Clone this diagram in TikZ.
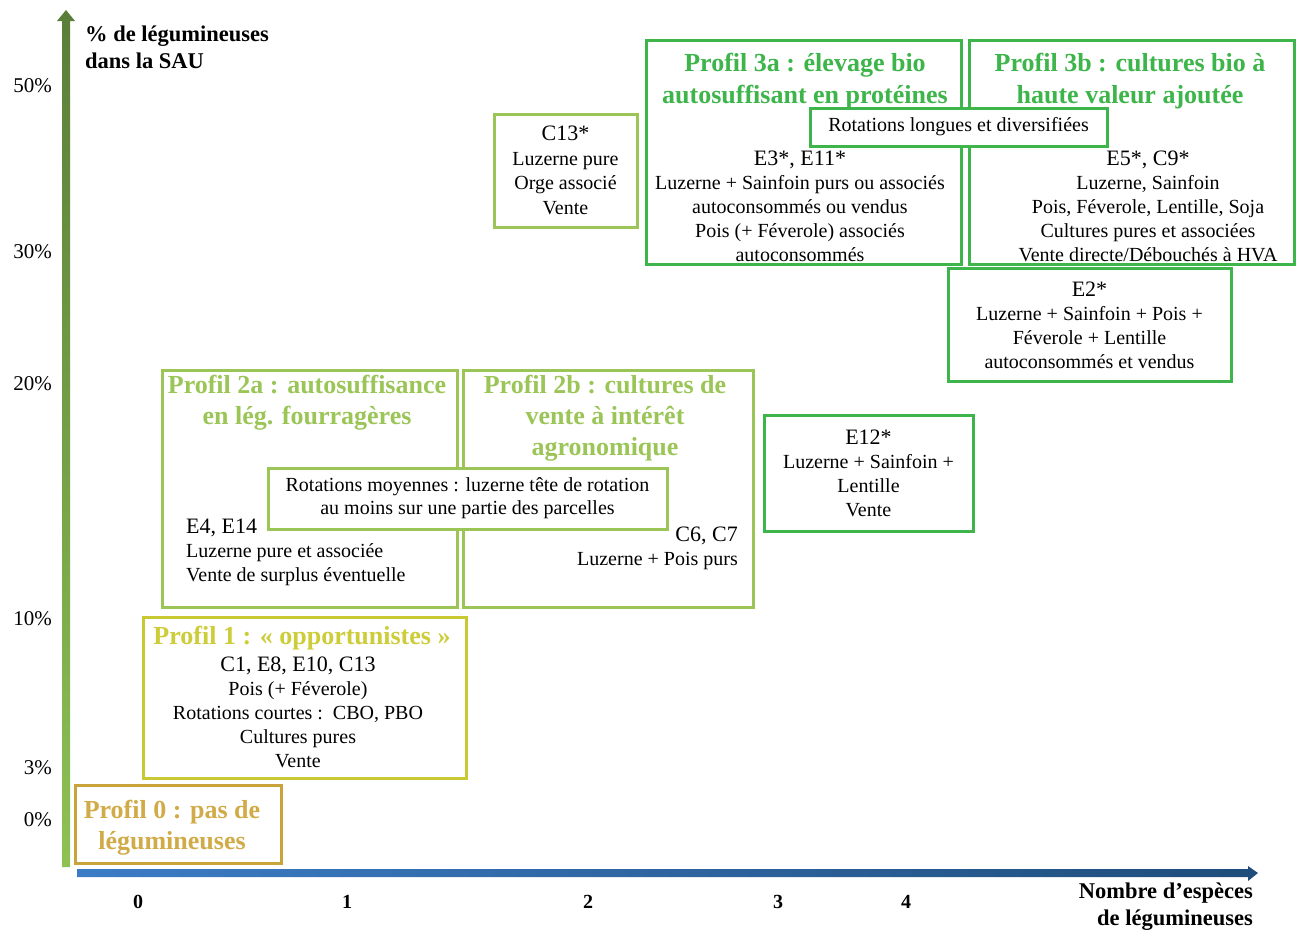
\documentclass[tikz,border=0pt]{standalone}
\usepackage{fontspec}
\setmainfont{Liberation Serif}
\definecolor{goldP}{HTML}{C9A43B}
\definecolor{goldT}{HTML}{D1AB47}
\definecolor{yelP}{HTML}{C9C934}
\definecolor{yelT}{HTML}{CDCD3A}
\definecolor{lgreen}{HTML}{9BC657}
\definecolor{dgreen}{HTML}{3DB54A}
\definecolor{axgtop}{HTML}{5A7D38}
\definecolor{axgbot}{HTML}{8DC253}
\definecolor{axbl}{HTML}{3C7CC6}
\definecolor{axbr}{HTML}{1F4D7A}
\newcommand\codeline[1]{{\fontsize{22}{24}\selectfont #1}}
\begin{document}
\begin{tikzpicture}[x=1pt,y=-1pt,
  frame/.style={draw, line width=3pt, fill=white, inner sep=0pt},
  body/.style={font=\fontsize{20}{24}\selectfont, align=center, inner sep=0pt, text=black},
  ptitle/.style={font=\bfseries\fontsize{26}{31}\selectfont, align=center, inner sep=0pt},
  axtitle/.style={font=\bfseries\fontsize{22.5}{27}\selectfont, inner sep=0pt},
  ytick/.style={font=\fontsize{21}{24}\selectfont, anchor=east, inner sep=0pt},
  xtick/.style={font=\bfseries\fontsize{20}{24}\selectfont, inner sep=0pt}]
\useasboundingbox (0,0) rectangle (1300,930);

% axes
\shade[top color=axgtop, bottom color=axgbot]
  (62,867) -- (70,867) -- (70,21) -- (75,21) -- (66,10) -- (57,21) -- (62,21) -- cycle;
\shade[left color=axbl, right color=axbr]
  (77,869) -- (1248,869) -- (1248,866) -- (1258,873) -- (1248,881) -- (1248,877) -- (77,877) -- cycle;

% axis titles
\node[axtitle, anchor=west, align=left] (ytitle) at (85,47.5) {\% de légumineuses\\dans la SAU};
\node[axtitle, anchor=east, align=right] (xtitle) at (1253,906.5) {Nombre d’espèces\\de légumineuses};

% tick labels
\node[ytick] (y50) at (52,86) {50\%};
\node[ytick] (y30) at (52,252) {30\%};
\node[ytick] (y20) at (52,384) {20\%};
\node[ytick] (y10) at (52,619) {10\%};
\node[ytick] (y3) at (52,768) {3\%};
\node[ytick] (y0) at (52,820) {0\%};
\node[xtick] (x0) at (138,902) {0};
\node[xtick] (x1) at (347,902) {1};
\node[xtick] (x2) at (588,902) {2};
\node[xtick] (x3) at (778,902) {3};
\node[xtick] (x4) at (906,902) {4};

% profile 0
\node[frame, draw=goldP, minimum width=206, minimum height=78] (p0) at (178,824) {};
\node[ptitle, text=goldT] (p0t) at (172,827.5) {Profil 0 : pas de\\légumineuses};

% profile 1
\node[frame, draw=yelP, minimum width=323, minimum height=161] (p1) at (304.5,697.5) {};
\node[ptitle, text=yelT] (p1t) at (302,638) {Profil 1 : « opportunistes »};
\node[body] (p1b) at (298,712) {\codeline{C1, E8, E10, C13}\\Pois (+ Féverole)\\Rotations courtes :\ \ CBO, PBO\\Cultures pures\\Vente};

% profiles 2a / 2b
\node[frame, draw=lgreen, minimum width=295, minimum height=237] (p2a) at (309.5,488.5) {};
\node[frame, draw=lgreen, minimum width=290, minimum height=237] (p2b) at (608,488.5) {};
\node[ptitle, text=lgreen] (p2at) at (307,402.5) {Profil 2a : autosuffisance\\en lég. fourragères};
\node[ptitle, text=lgreen] (p2bt) at (605,418.5) {Profil 2b : cultures de\\vente à intérêt\\agronomique};
\node[body, anchor=west, align=left] (p2ab) at (186,552.5) {\codeline{E4, E14}\\Luzerne pure et associée\\Vente de surplus éventuelle};
\node[body, anchor=east, align=right] (p2bb) at (738,548) {\codeline{C6, C7}\\Luzerne + Pois purs};
\node[frame, draw=lgreen, minimum width=399, minimum height=61, body, font=\fontsize{20}{23}\selectfont] (rmoy) at (467.5,498.5)
  {Rotations moyennes : luzerne tête de rotation\\au moins sur une partie des parcelles};

% C13*
\node[frame, draw=lgreen, minimum width=143, minimum height=113, body, font=\fontsize{20}{24.5}\selectfont] (c13) at (565.5,170.5)
  {\codeline{C13*}\\Luzerne pure\\Orge associé\\Vente};

% profiles 3a / 3b
\node[frame, draw=dgreen, minimum width=315, minimum height=224] (p3a) at (803.5,152) {};
\node[frame, draw=dgreen, minimum width=325, minimum height=224] (p3b) at (1131.5,152) {};
\node[ptitle, text=dgreen, font=\bfseries\fontsize{26}{32}\selectfont] (p3at) at (805,81) {Profil 3a : élevage bio\\autosuffisant en protéines};
\node[ptitle, text=dgreen, font=\bfseries\fontsize{26}{32}\selectfont] (p3bt) at (1130,81) {Profil 3b : cultures bio à\\haute valeur ajoutée};
\node[body] (p3ab) at (800,206) {\codeline{E3*, E11*}\\Luzerne + Sainfoin purs ou associés\\autoconsommés ou vendus\\Pois (+ Féverole) associés\\autoconsommés};
\node[body] (p3bb) at (1148,206) {\codeline{E5*, C9*}\\Luzerne, Sainfoin\\Pois, Féverole, Lentille, Soja\\Cultures pures et associées\\Vente directe/Débouchés à HVA};
\node[frame, draw=dgreen, minimum width=297, minimum height=38, body] (rlong) at (958.5,127) {Rotations longues et diversifiées};

% E2*, E12*
\node[frame, draw=dgreen, minimum width=283, minimum height=113, body] (e2) at (1089.5,325)
  {\codeline{E2*}\\Luzerne + Sainfoin + Pois +\\Féverole + Lentille\\autoconsommés et vendus};
\node[frame, draw=dgreen, minimum width=209, minimum height=116, body] (e12) at (868.5,473)
  {\codeline{E12*}\\Luzerne + Sainfoin +\\Lentille\\Vente};
\end{tikzpicture}
\end{document}
